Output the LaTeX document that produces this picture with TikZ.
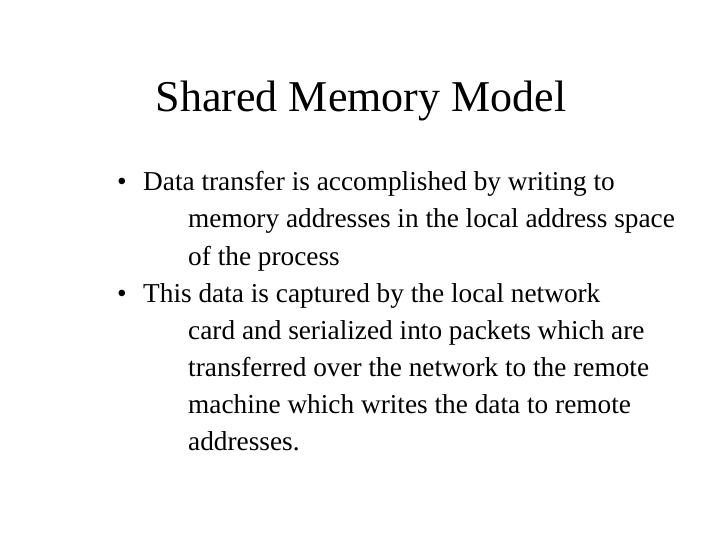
\documentclass[tikz,border=0pt]{standalone}
\usepackage{fontspec}
\setmainfont{Liberation Serif}
\begin{document}
\begin{tikzpicture}[x=1pt,y=-1pt,
  ln/.style={anchor=base west,inner sep=0pt,font=\fontsize{27.3}{32}\selectfont},
  bul/.style={anchor=base west,inner sep=0pt,font=\fontsize{27.3}{32}\selectfont}]
\useasboundingbox[fill=white] (0,0) rectangle (720,540);
\node[anchor=base,inner sep=0pt,font=\fontsize{44}{48}\selectfont] (title) at (361,112) {Shared Memory Model};
\node[bul] (b1) at (117,191) {•};
\node[ln] (l1) at (143,191) {Data transfer is accomplished by writing to};
\node[ln] (l2) at (188,228) {memory addresses in the local address space};
\node[ln] (l3) at (188,265) {of the process};
\node[bul] (b2) at (117,302) {•};
\node[ln] (l4) at (143,302) {This data is captured by the local network};
\node[ln] (l5) at (188,339) {card and serialized into packets which are};
\node[ln] (l6) at (188,376) {transferred over the network to the remote};
\node[ln] (l7) at (188,413) {machine which writes the data to remote};
\node[ln] (l8) at (188,450) {addresses.};
\end{tikzpicture}
\end{document}
